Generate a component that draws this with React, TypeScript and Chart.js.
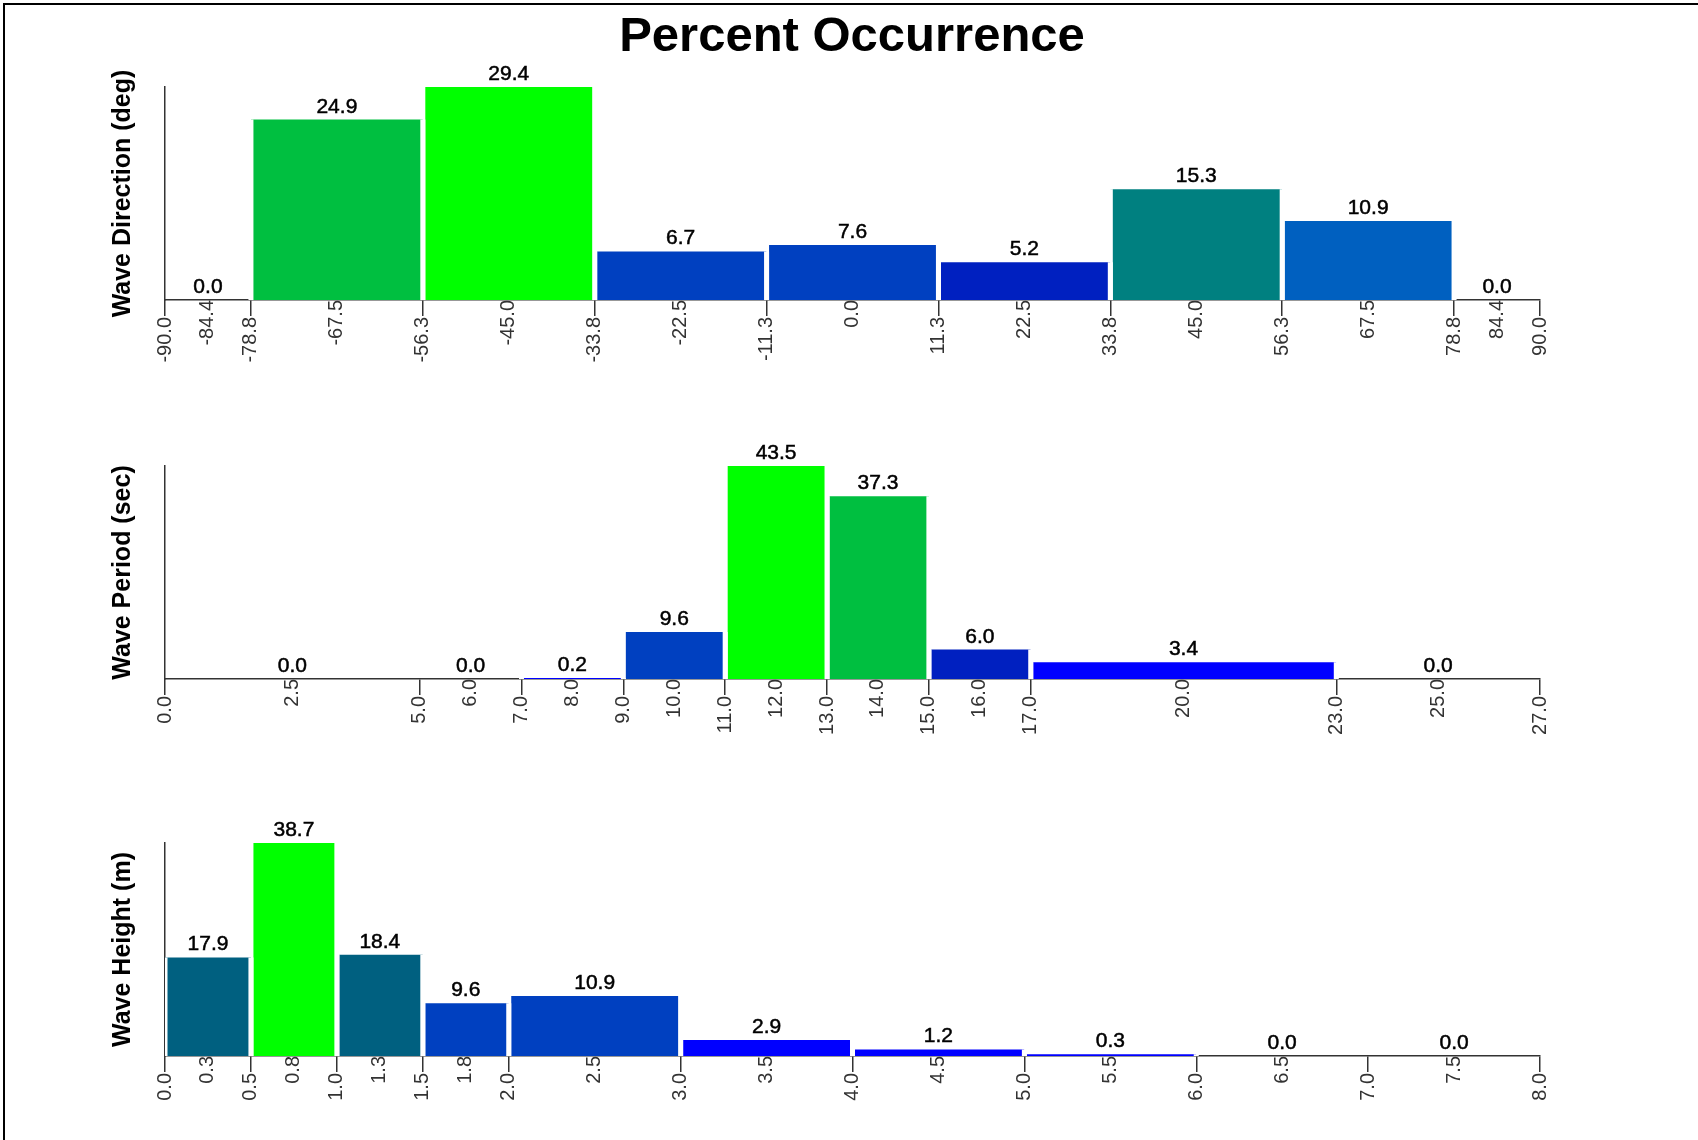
import React, { useEffect, useRef } from "react";
import { Chart, registerables } from "chart.js";

Chart.register(...registerables);

const FONT = "'Liberation Sans', Arial, Helvetica, sans-serif";

// Wave direction bins (deg) and percent occurrence per bin
const directionEdges = [-90, -78.75, -56.25, -33.75, -11.25, 11.25, 33.75, 56.25, 78.75, 90];
const directionPercent = [0.0, 24.9, 29.4, 6.7, 7.6, 5.2, 15.3, 10.9, 0.0];
const directionColors = ["#0000FF", "#00BF40", "#00FF00", "#0040C0", "#0040C0", "#0020C0", "#008080", "#0060C0", "#0000FF"];

// Wave period bins (sec)
const periodEdges = [0, 5, 7, 9, 11, 13, 15, 17, 23, 27];
const periodPercent = [0.0, 0.0, 0.2, 9.6, 43.5, 37.3, 6.0, 3.4, 0.0];
const periodColors = ["#0000FF", "#0000FF", "#0000FF", "#0040C0", "#00FF00", "#00BF40", "#0020C0", "#0000FF", "#0000FF"];

// Wave height bins (m)
const heightEdges = [0, 0.5, 1.0, 1.5, 2.0, 3.0, 4.0, 5.0, 6.0, 7.0, 8.0];
const heightPercent = [17.9, 38.7, 18.4, 9.6, 10.9, 2.9, 1.2, 0.3, 0.0, 0.0];
const heightColors = ["#006080", "#00FF00", "#006080", "#0040C0", "#0040C0", "#0000FF", "#0000FF", "#0000FF", "#0000FF", "#0000FF"];

const axisTitles = ["Wave Direction (deg)", "Wave Period (sec)", "Wave Height (m)"];

// Layout (pixels)
const CANVAS_W = 1698;
const PAD_TOP = 40;
const PLOT_H = 213;
const XAXIS_H = 70;
const CANVAS_H = PAD_TOP + PLOT_H + XAXIS_H;
const PANEL_TOPS = [47, 426, 803];

type HistProps = {
  axisTitle: string;
  edges: number[];
  values: number[];
  colors: string[];
  top: number;
};

function Histogram({ axisTitle, edges, values, colors, top }: HistProps) {
  const ref = useRef<HTMLCanvasElement>(null);

  useEffect(() => {
    if (!ref.current) return;
    const centers = values.map((_, i) => (edges[i] + edges[i + 1]) / 2);
    const xMin = edges[0];
    const xMax = edges[edges.length - 1];

    // Each bin is a step outline filled down to zero; the white vertical
    // strokes leave a gap between neighbouring bins.
    const datasets = values.map((v, i) => ({
      data: [
        { x: edges[i], y: 0 },
        { x: edges[i], y: v },
        { x: edges[i + 1], y: v },
        { x: edges[i + 1], y: 0 },
      ],
      backgroundColor: colors[i],
      borderColor: "#ffffff",
      borderWidth: 5,
      fill: "origin",
      pointRadius: 0,
      tension: 0,
      segment: {
        borderColor: (ctx: any) => (ctx.p0DataIndex === 1 ? "rgba(255,255,255,0)" : "#ffffff"),
      },
    }));

    const valueLabels = {
      id: "valueLabels",
      afterDatasetsDraw(chart: any) {
        const { ctx, scales } = chart;
        const xs = scales.x;
        const ys = scales.y;
        ctx.save();
        ctx.font = `21px ${FONT}`;
        ctx.fillStyle = "#000000";
        ctx.strokeStyle = "#000000";
        ctx.lineWidth = 0.5;
        ctx.textAlign = "center";
        ctx.textBaseline = "alphabetic";
        values.forEach((v, i) => {
          const px = xs.getPixelForValue(centers[i]);
          const py = ys.getPixelForValue(v) - 7;
          ctx.fillText(v.toFixed(1), px, py);
          ctx.strokeText(v.toFixed(1), px, py);
        });
        ctx.restore();
      },
    };

    const tickFont = { family: FONT, size: 20 };
    const fmt = (v: any) => Number(v).toFixed(1);

    const chart = new Chart(ref.current, {
      type: "line",
      data: { datasets: datasets as any },
      options: {
        responsive: false,
        animation: false,
        events: [],
        layout: { padding: { left: 100, right: 158, top: PAD_TOP, bottom: 0 } },
        plugins: {
          legend: { display: false },
          tooltip: { enabled: false },
          title: { display: false },
        },
        scales: {
          x: {
            type: "linear",
            position: "bottom",
            min: xMin,
            max: xMax,
            z: 1,
            afterBuildTicks: (s: any) => {
              s.ticks = edges.map((v) => ({ value: v }));
            },
            afterFit: (s: any) => {
              s.height = XAXIS_H;
            },
            grid: {
              display: true,
              drawOnChartArea: false,
              drawTicks: true,
              tickLength: 16,
              tickColor: "#333333",
              lineWidth: 1.5,
            },
            border: { display: true, color: "#333333", width: 1.5 },
            ticks: {
              autoSkip: false,
              minRotation: 90,
              maxRotation: 90,
              padding: 1,
              color: "#333333",
              font: tickFont,
              callback: fmt,
            },
          },
          x2: {
            type: "linear",
            axis: "x",
            position: { y: 0 },
            min: xMin,
            max: xMax,
            z: 1,
            afterBuildTicks: (s: any) => {
              s.ticks = centers.map((v) => ({ value: v }));
            },
            grid: { display: false, drawTicks: false },
            border: { display: false },
            ticks: {
              autoSkip: false,
              minRotation: 90,
              maxRotation: 90,
              padding: 0,
              color: "#333333",
              font: tickFont,
              callback: fmt,
            },
          },
          y: {
            type: "linear",
            min: 0,
            max: Math.max(...values),
            z: 1,
            afterFit: (s: any) => {
              s.width = 65;
            },
            grid: { display: false, drawTicks: false },
            border: { display: true, color: "#333333", width: 1.5 },
            ticks: { display: false },
            title: {
              display: true,
              text: axisTitle,
              color: "#000000",
              font: { family: FONT, size: 25, weight: "bold" },
              padding: { top: 8, bottom: 0 },
            },
          },
        } as any,
      },
      plugins: [valueLabels],
    });

    return () => chart.destroy();
  }, [axisTitle, edges, values, colors]);

  return (
    <canvas
      ref={ref}
      width={CANVAS_W}
      height={CANVAS_H}
      style={{ position: "absolute", left: 0, top, width: CANVAS_W, height: CANVAS_H }}
    />
  );
}

export default function App() {
  const sets = [
    { edges: directionEdges, values: directionPercent, colors: directionColors },
    { edges: periodEdges, values: periodPercent, colors: periodColors },
    { edges: heightEdges, values: heightPercent, colors: heightColors },
  ];
  return (
    <div
      style={{
        position: "absolute",
        left: 0,
        top: 0,
        width: 1698,
        height: 1140,
        background: "#ffffff",
        overflow: "hidden",
      }}
    >
      <div
        style={{
          position: "absolute",
          left: 3,
          top: 3,
          right: -20,
          bottom: -20,
          borderTop: "2px solid #000",
          borderLeft: "2px solid #000",
        }}
      />
      <div
        style={{
          position: "absolute",
          left: 3,
          top: 10,
          width: 1698,
          textAlign: "center",
          font: `bold 49px ${FONT}`,
          lineHeight: "49px",
          color: "#000",
          whiteSpace: "nowrap",
        }}
      >
        Percent Occurrence
      </div>
      {sets.map((s, i) => (
        <Histogram
          key={i}
          axisTitle={axisTitles[i]}
          edges={s.edges}
          values={s.values}
          colors={s.colors}
          top={PANEL_TOPS[i]}
        />
      ))}
    </div>
  );
}
